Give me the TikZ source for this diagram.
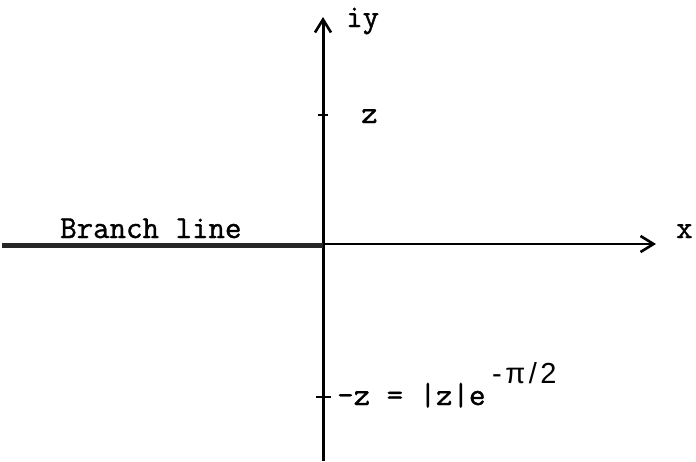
\documentclass[tikz,border=0pt]{standalone}
\usepackage{fontspec}
\newfontfamily\supfont{Liberation Sans}[LetterSpace=12]
\newfontfamily\twfont{Latin Modern Mono}[FakeBold=1.2]
\usetikzlibrary{arrows.meta}
\begin{document}
\begin{tikzpicture}[x=1pt,y=-1pt,
  lbl/.style={font=\twfont\fontsize{32}{35}\selectfont, inner sep=0pt},
  suplbl/.style={font=\supfont\fontsize{29}{33}\selectfont, inner sep=0pt},
  tip/.style={-{Straight Barb[length=13pt,width=16pt,line width=2.6pt]}},
  tick/.style={line width=2pt}]
\useasboundingbox (0,0) rectangle (696,461);
\coordinate (O) at (323,244);
\coordinate (top) at (323,17);
\coordinate (bot) at (323,461);
\coordinate (left) at (2,245.5);
\coordinate (bO) at (323,245.5);
\coordinate (right) at (656,244);
% vertical axis
\draw[line width=3pt, tip] (bot) -- (top);
% horizontal axis
\draw[line width=2pt, tip] (O) -- (right);
% branch line
\draw[line width=5pt, black!85] (left) -- (bO);
% ticks
\coordinate (tz) at (323,115);
\coordinate (tmz) at (323,397);
\draw[tick] ([xshift=-5pt]tz) -- ([xshift=5pt]tz);
\draw[tick] ([xshift=-7pt]tmz) -- ([xshift=8pt]tmz);
% labels
\node[lbl, anchor=base west] (iy) at (346,27) {iy};
\node[lbl, anchor=base west] (z) at (361,123) {z};
\node[lbl, anchor=base west] (x) at (676,238) {x};
\node[lbl, anchor=base west] (br) at (60,238) {Branch line};
\node[lbl, anchor=base west] (mz) at (337,405) {-z = |z|e};
\node[suplbl, anchor=base west] (ex) at (492,383) {-π/2};
\end{tikzpicture}
\end{document}
